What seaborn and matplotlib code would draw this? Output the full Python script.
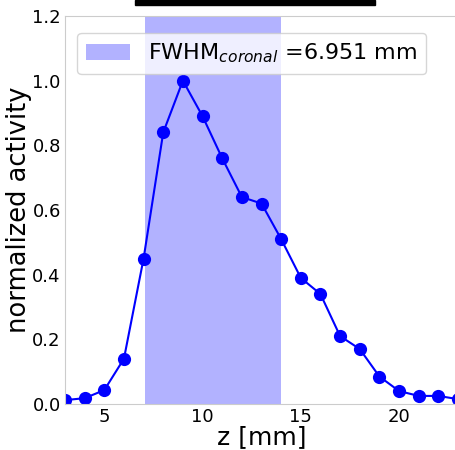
import numpy as np
import pandas as pd
import matplotlib.pyplot as plt
import seaborn as sns
from matplotlib.patches import Rectangle

# ------------------------------------------------------------------------------
# DATA
# ------------------------------------------------------------------------------
z_mm = [3, 4, 5, 6, 7, 8, 9, 10, 11, 12, 13, 14, 15, 16, 17, 18, 19, 20, 21, 22, 23]
activity = [0.012, 0.018, 0.043, 0.14, 0.45, 0.84, 1.0, 0.89, 0.76, 0.64, 0.62,
            0.51, 0.39, 0.34, 0.21, 0.17, 0.085, 0.04, 0.025, 0.025, 0.015]
fwhm_lo = 7.05
fwhm_hi = 14.0
fwhm_label = r'FWHM$_{coronal}$ =6.951 mm'

df = pd.DataFrame({'z': z_mm, 'activity': activity})

# ------------------------------------------------------------------------------
# PLOT
# ------------------------------------------------------------------------------
sns.set_style("whitegrid")
plt.rcParams['font.family'] = ['DejaVu Sans']
plt.rcParams['text.color'] = 'black'
plt.rcParams['axes.labelcolor'] = 'black'
plt.rcParams['xtick.color'] = 'black'
plt.rcParams['ytick.color'] = 'black'

fig = plt.figure(figsize=(4.55, 4.5), dpi=100)
ax = fig.add_axes([65 / 455, 46 / 450, 393 / 455, 388 / 450])

ax.axvspan(fwhm_lo, fwhm_hi, color='blue', alpha=0.3, lw=0, label=fwhm_label)
sns.lineplot(data=df, x='z', y='activity', ax=ax, color='blue', lw=1.5,
             marker='o', markersize=9.5, markeredgewidth=0, legend=False)

ax.set_xlim(3, 23)
ax.set_ylim(0, 1.2)
ax.set_xticks([5, 10, 15, 20])
ax.set_yticks([0.0, 0.2, 0.4, 0.6, 0.8, 1.0, 1.2])
ax.grid(False)
ax.tick_params(labelsize=13, length=0, pad=3)
ax.set_xlabel('z [mm]', fontsize=18, labelpad=-1)
ax.set_ylabel('normalized activity', fontsize=18.5, labelpad=0.5)

ax.legend(loc='upper center', fontsize=16, handlelength=2.0,
          bbox_to_anchor=(0.475, 0.985))

# black bar at the top (clipped title block)
fig.patches.append(Rectangle((135 / 455, 445 / 450), 240 / 455, 5 / 450,
                             transform=fig.transFigure, color='black'))

fig.savefig('out.png', dpi=100)
